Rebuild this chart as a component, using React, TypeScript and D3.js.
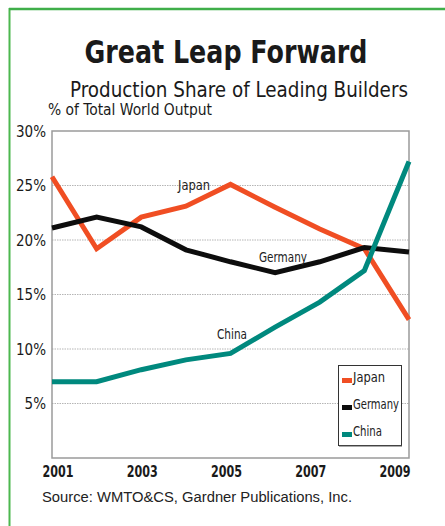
import React from "react";
import * as d3 from "d3";

const years = [2001, 2002, 2003, 2004, 2005, 2006, 2007, 2008, 2009];
const japan = [25.8, 19.2, 22.1, 23.1, 25.1, 23.0, 21.0, 19.2, 12.7];
const germany = [21.1, 22.1, 21.2, 19.1, 18.0, 17.0, 18.0, 19.3, 18.9];
const china = [7.0, 7.0, 8.1, 9.0, 9.6, 12.0, 14.3, 17.2, 27.2];
const yTicks = [5, 10, 15, 20, 25, 30];
const xTickYears = [2001, 2003, 2005, 2007, 2009];
const seriesNames = ["Japan", "Germany", "China"];
const seriesColors = ["#f04e23", "#0d0d0d", "#00897e"];

const W = 445;
const H = 526;
const left = 52;
const right = 409;
const top = 131;
const bottom = 458;

export default function App() {
  const x = d3.scaleLinear().domain([2001, 2009]).range([left, right]);
  const xLab = d3.scaleLinear().domain([2001, 2009]).range([58, 395]);
  const y = d3.scaleLinear().domain([0, 30]).range([bottom, top]);
  const line = d3
    .line<number>()
    .x((_, i) => x(years[i]))
    .y((v) => y(v))
    .curve(d3.curveLinear);
  const data = [japan, germany, china];
  const narrow = "'Liberation Sans Narrow', 'DejaVu Sans Condensed', 'Liberation Sans', sans-serif";
  const sans = "'Liberation Sans', Arial, sans-serif";
  const legendW = [32, 46, 29];

  return (
    <svg width={W} height={H} style={{ position: "absolute", left: 0, top: 0 }}>
      <rect x={0} y={0} width={W} height={H} fill="#fff" />
      <line x1={9.5} y1={8} x2={9.5} y2={H} stroke="#4cb84f" strokeWidth={2} />
      <line x1={9} y1={9} x2={W} y2={9} stroke="#3fae49" strokeWidth={2.5} />

      <text x={226} y={63} textAnchor="middle" fontFamily={narrow} fontWeight="bold" fontSize={32} fill="#1a1a1a" textLength={283} lengthAdjust="spacingAndGlyphs">
        Great Leap Forward
      </text>
      <text x={239} y={97} textAnchor="middle" fontFamily={narrow} fontSize={21} fill="#1a1a1a" textLength={338} lengthAdjust="spacingAndGlyphs">
        Production Share of Leading Builders
      </text>
      <text x={48} y={115} fontFamily={narrow} fontSize={16} fill="#1a1a1a" textLength={164} lengthAdjust="spacingAndGlyphs">
        % of Total World Output
      </text>

      {yTicks.filter((t) => t < 30).map((t) => (
        <line key={"g" + t} x1={left} x2={right} y1={y(t)} y2={y(t)} stroke="#b5b5b5" strokeWidth={1} strokeDasharray="1.5,1" />
      ))}
      <rect x={left} y={top} width={right - left} height={bottom - top} fill="none" stroke="#9a9a9a" strokeWidth={1.5} />

      {yTicks.map((t) => (
        <text key={"yt" + t} x={46} y={y(t) + 5.5} textAnchor="end" fontFamily={narrow} fontSize={15} fill="#1a1a1a">
          {t}%
        </text>
      ))}
      {xTickYears.map((yr) => (
        <text key={"xt" + yr} x={xLab(yr)} y={477} textAnchor="middle" fontFamily={narrow} fontWeight="bold" fontSize={16} fill="#1a1a1a" textLength={31} lengthAdjust="spacingAndGlyphs">
          {yr}
        </text>
      ))}

      {data.map((d, i) => (
        <path key={seriesNames[i]} d={line(d) || ""} fill="none" stroke={seriesColors[i]} strokeWidth={5} strokeLinejoin="miter" />
      ))}

      <text x={194} y={190} textAnchor="middle" fontFamily={narrow} fontSize={14} fill="#222" textLength={32} lengthAdjust="spacingAndGlyphs">Japan</text>
      <text x={283} y={262} textAnchor="middle" fontFamily={narrow} fontSize={14} fill="#222" textLength={48} lengthAdjust="spacingAndGlyphs">Germany</text>
      <text x={232} y={339} textAnchor="middle" fontFamily={narrow} fontSize={14} fill="#222" textLength={30} lengthAdjust="spacingAndGlyphs">China</text>

      <rect x={338.5} y={365.5} width={63} height={80} fill="#fff" stroke="#333" strokeWidth={1} />
      <line x1={339} x2={402} y1={446} y2={446} stroke="#555" strokeWidth={1} />
      {seriesNames.map((n, i) => (
        <g key={"lg" + n}>
          <rect x={342} y={378 + i * 27} width={10} height={5} fill={seriesColors[i]} />
          <text x={353} y={382 + i * 27} fontFamily={narrow} fontSize={13.5} fill="#222" textLength={legendW[i]} lengthAdjust="spacingAndGlyphs">{n}</text>
        </g>
      ))}

      <text x={42} y={502} fontFamily={sans} fontSize={15.5} fill="#222" textLength={310} lengthAdjust="spacingAndGlyphs">
        Source: WMTO&amp;CS, Gardner Publications, Inc.
      </text>
    </svg>
  );
}
